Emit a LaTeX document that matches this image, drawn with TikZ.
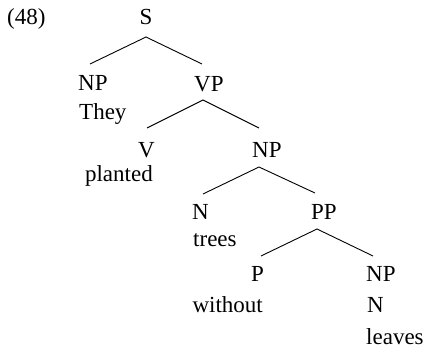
\documentclass[tikz,border=0pt]{standalone}
\usepackage{fontspec}
\setmainfont{Liberation Serif}
\tikzset{
	lbl/.style={inner sep=0pt, font=\fontsize{23}{26}\selectfont},
	branch/.style={line width=0.9pt}
}
\begin{document}
\begin{tikzpicture}[x=1pt,y=-1pt]
		\useasboundingbox (0,0) rectangle (424,350);
		
		\node[lbl, anchor=base west] (ex-num) at (7,25) {(48)};
		\node[lbl, anchor=base] (s) at (146,25) {S};
		
		\node[lbl, anchor=base west] (np-subj) at (78,91) {NP};
		\node[lbl, anchor=base west] (they) at (79,120) {They};
		\node[lbl, anchor=base west] (vp) at (194,92) {VP};
		
		\node[lbl, anchor=base east] (v) at (155,158) {V};
		\node[lbl, anchor=base east] (planted) at (153,182) {planted};
		\node[lbl, anchor=base west] (np-obj) at (252,158) {NP};
		
		\node[lbl, anchor=base west] (n-trees) at (192,220) {N};
		\node[lbl, anchor=base west] (trees) at (193,247) {trees};
		\node[lbl, anchor=base west] (pp) at (311,220) {PP};
		
		\node[lbl, anchor=base east] (p) at (264,282) {P};
		\node[lbl, anchor=base east] (without) at (263,313) {without};
		\node[lbl, anchor=base west] (np-leaves) at (366,282) {NP};
		\node[lbl, anchor=base west] (n-leaves) at (367,313) {N};
		\node[lbl, anchor=base west] (leaves) at (366,345) {leaves};
		
		\draw[branch] ([shift={(12,-27)}]np-subj.base west) -- ([shift={(0,12)}]s.base) -- ([shift={(8,-28)}]vp.base west);
		\draw[branch] ([shift={(-8,-30)}]v.base east) -- ([shift={(9,8)}]vp.base west) -- ([shift={(7,-30)}]np-obj.base west);
		\draw[branch] ([shift={(11,-26)}]n-trees.base west) -- ([shift={(7,9)}]np-obj.base west) -- ([shift={(4,-27)}]pp.base west);
		\draw[branch] ([shift={(-3,-26)}]p.base east) -- ([shift={(6,9)}]pp.base west) -- ([shift={(7,-26)}]np-leaves.base west);
	\end{tikzpicture}
\end{document}
